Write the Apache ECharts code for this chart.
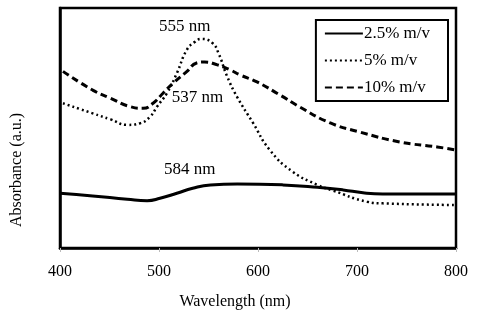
<!DOCTYPE html>
<html>
<head>
<meta charset="utf-8">
<script src="https://cdn.jsdelivr.net/npm/echarts@6/dist/echarts.min.js"></script>
<style>
  html, body { margin: 0; padding: 0; background: #fff; }
  #box { width: 477px; height: 312px; }
</style>
</head>
<body>
<div id="box"></div>
<script>
// wavelength (nm) and absorbance (a.u., 0-100 scale)
var solidX = [400, 433, 468, 488, 501, 518, 534, 552, 579, 625, 660, 686, 706, 726, 800];
var solidY = [22.8, 21.7, 20.3, 19.7, 20.7, 22.8, 24.9, 26.3, 26.7, 26.3, 25.3, 24.2, 23.0, 22.5, 22.5];

var dotX = [403, 433, 451, 468, 481, 491, 498, 508, 518, 528, 536, 543, 554, 560, 569, 579, 595, 612, 635, 660, 676, 710, 726, 800];
var dotY = [60.3, 56.1, 53.6, 51.3, 52.0, 54.7, 58.9, 64.5, 72.8, 82.5, 85.8, 87.1, 85.4, 81.3, 71.3, 62.9, 52.1, 40.8, 31.8, 26.3, 23.9, 19.3, 18.6, 17.9];

var dashX = [403, 433, 451, 471, 484, 494, 504, 514, 528, 538, 546, 559, 572, 582, 599, 622, 642, 673, 703, 743, 781, 800];
var dashY = [73.6, 65.8, 62.4, 58.9, 58.2, 60.3, 64.5, 68.6, 73.5, 77.1, 77.5, 76.3, 74.2, 72.1, 69.2, 63.8, 58.8, 52.1, 48.3, 44.2, 42.1, 40.8];

var seriesNames = ['2.5% m/v', '5% m/v', '10% m/v'];
var xTicks = [400, 500, 600, 700, 800];

// peak labels: [wavelength, absorbance, text]
var notes = [
    [526, 92.1, '555 nm'],
    [539, 62.5, '537 nm'],
    [531, 32.5, '584 nm']
];

function pairs(xs, ys) {
    return xs.map(function (x, i) { return [x, ys[i]]; });
}

window.onload = function () {
    var myChart = echarts.init(document.getElementById('box'));
    var font = '"Liberation Serif", "Times New Roman", serif';

    var option = {
        animation: false,
        textStyle: { fontFamily: font },
        grid: {
            left: 60, right: 21, top: 8, bottom: 64,
            show: true, borderColor: '#000', borderWidth: 2.5
        },
        legend: {
            orient: 'vertical',
            right: 29, top: 20,
            data: seriesNames,
            itemWidth: 38, itemHeight: 14, itemGap: 10,
            padding: [5, 18, 5, 8],
            borderColor: '#000', borderWidth: 2,
            itemStyle: { opacity: 0 },
            textStyle: { fontFamily: font, fontSize: 17, color: '#000', padding: [0, 0, 0, -4] }
        },
        xAxis: {
            type: 'value',
            min: 400, max: 800, interval: 100,
            axisLine: { lineStyle: { color: '#000', width: 2.5 } },
            axisTick: { show: true, length: 4, lineStyle: { color: '#bbb' } },
            axisLabel: {
                fontFamily: font, fontSize: 16, color: '#000', margin: 16,
                formatter: function (v) { return xTicks.indexOf(v) >= 0 ? String(v) : ''; }
            },
            splitLine: { show: false }
        },
        yAxis: {
            type: 'value',
            min: 0, max: 100,
            axisLine: { show: true, lineStyle: { color: '#000', width: 2.5 } },
            axisTick: { show: false },
            axisLabel: { show: false },
            splitLine: { show: false }
        },
        graphic: [{
            type: 'text',
            x: 17, y: 170,
            rotation: Math.PI / 2,
            style: {
                text: 'Absorbance (a.u.)',
                font: '16px ' + font,
                fill: '#000',
                align: 'center',
                verticalAlign: 'middle'
            }
        }, {
            type: 'text',
            x: 235, y: 302,
            style: {
                text: 'Wavelength (nm)',
                font: '16px ' + font,
                fill: '#000',
                align: 'center',
                verticalAlign: 'middle'
            }
        }],
        series: [{
            name: seriesNames[0],
            type: 'line',
            smooth: true,
            symbol: 'none',
            data: pairs(solidX, solidY),
            lineStyle: { color: '#000', width: 3, type: 'solid' },
            itemStyle: { color: '#000' }
        }, {
            name: seriesNames[1],
            type: 'line',
            smooth: true,
            symbol: 'none',
            data: pairs(dotX, dotY),
            lineStyle: { color: '#000', width: 2.5, type: [2, 3] },
            itemStyle: { color: '#000' }
        }, {
            name: seriesNames[2],
            type: 'line',
            smooth: true,
            symbol: 'none',
            data: pairs(dashX, dashY),
            lineStyle: { color: '#000', width: 3, type: [7, 4] },
            itemStyle: { color: '#000' }
        }, {
            type: 'scatter',
            symbolSize: 0,
            silent: true,
            itemStyle: { color: '#000', opacity: 1 },
            data: notes.map(function (n) { return { value: [n[0], n[1]], name: n[2] }; }),
            label: {
                show: true,
                position: 'inside',
                formatter: '{b}',
                fontFamily: font, fontSize: 17, color: '#000'
            }
        }]
    };
    myChart.setOption(option);
};
</script>
</body>
</html>
